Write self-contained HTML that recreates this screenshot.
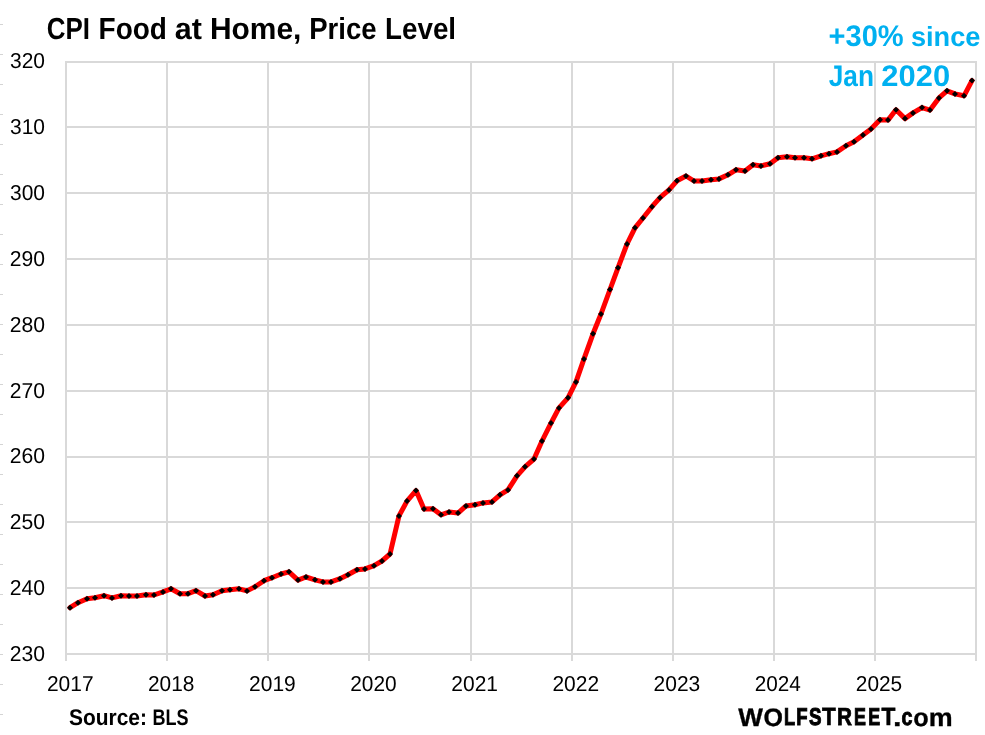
<!DOCTYPE html>
<html><head><meta charset="utf-8"><title>CPI Food at Home, Price Level</title>
<style>html,body{margin:0;padding:0;background:#fff;}body{width:985px;height:735px;overflow:hidden;font-family:"Liberation Sans",sans-serif;}svg{display:block;}text{font-family:"Liberation Sans",sans-serif;}</style></head><body>
<svg width="985" height="735" viewBox="0 0 985 735" style="will-change:transform" text-rendering="geometricPrecision">
<rect width="985" height="735" fill="#ffffff"/>
<g stroke="#d4d4d4" stroke-width="1">
<line x1="0" y1="24.5" x2="3" y2="24.5"/>
<line x1="0" y1="54.5" x2="3" y2="54.5"/>
<line x1="0" y1="84.5" x2="3" y2="84.5"/>
<line x1="0" y1="114.5" x2="3" y2="114.5"/>
<line x1="0" y1="144.5" x2="3" y2="144.5"/>
<line x1="0" y1="174.5" x2="3" y2="174.5"/>
<line x1="0" y1="204.5" x2="3" y2="204.5"/>
<line x1="0" y1="234.5" x2="3" y2="234.5"/>
<line x1="0" y1="264.5" x2="3" y2="264.5"/>
<line x1="0" y1="294.5" x2="3" y2="294.5"/>
<line x1="0" y1="324.5" x2="3" y2="324.5"/>
<line x1="0" y1="354.5" x2="3" y2="354.5"/>
<line x1="0" y1="384.5" x2="3" y2="384.5"/>
<line x1="0" y1="414.5" x2="3" y2="414.5"/>
<line x1="0" y1="444.5" x2="3" y2="444.5"/>
<line x1="0" y1="474.5" x2="3" y2="474.5"/>
<line x1="0" y1="504.5" x2="3" y2="504.5"/>
<line x1="0" y1="534.5" x2="3" y2="534.5"/>
<line x1="0" y1="564.5" x2="3" y2="564.5"/>
<line x1="0" y1="594.5" x2="3" y2="594.5"/>
<line x1="0" y1="624.5" x2="3" y2="624.5"/>
<line x1="0" y1="654.5" x2="3" y2="654.5"/>
<line x1="0" y1="684.5" x2="3" y2="684.5"/>
<line x1="0" y1="714.5" x2="3" y2="714.5"/>
</g>
<g stroke="#d9d9d9" stroke-width="2" fill="none">
<line x1="65.0" y1="654" x2="977.0" y2="654"/>
<line x1="65.0" y1="588" x2="977.0" y2="588"/>
<line x1="65.0" y1="522" x2="977.0" y2="522"/>
<line x1="65.0" y1="457" x2="977.0" y2="457"/>
<line x1="65.0" y1="391" x2="977.0" y2="391"/>
<line x1="65.0" y1="325" x2="977.0" y2="325"/>
<line x1="65.0" y1="259" x2="977.0" y2="259"/>
<line x1="65.0" y1="193" x2="977.0" y2="193"/>
<line x1="65.0" y1="127" x2="977.0" y2="127"/>
<line x1="65.0" y1="62" x2="977.0" y2="62"/>
<line x1="66" y1="61.0" x2="66" y2="661.0"/>
<line x1="167" y1="61.0" x2="167" y2="661.0"/>
<line x1="268" y1="61.0" x2="268" y2="661.0"/>
<line x1="369" y1="61.0" x2="369" y2="661.0"/>
<line x1="471" y1="61.0" x2="471" y2="661.0"/>
<line x1="572" y1="61.0" x2="572" y2="661.0"/>
<line x1="673" y1="61.0" x2="673" y2="661.0"/>
<line x1="774" y1="61.0" x2="774" y2="661.0"/>
<line x1="875" y1="61.0" x2="875" y2="661.0"/>
<line x1="976" y1="61.0" x2="976" y2="661.0"/>
</g>
<text transform="translate(46.73,39.20) scale(0.8526,1)" font-size="30.4" font-weight="bold" fill="#000">CPI</text>
<text transform="translate(98.56,39.20) scale(0.9210,1)" font-size="30.4" font-weight="bold" fill="#000">Food</text>
<text transform="translate(174.70,39.20) scale(1.0039,1)" font-size="30.4" font-weight="bold" fill="#000">at</text>
<text transform="translate(209.93,39.20) scale(0.9848,1)" font-size="30.4" font-weight="bold" fill="#000">Home,</text>
<text transform="translate(309.19,39.20) scale(0.9053,1)" font-size="30.4" font-weight="bold" fill="#000">Price</text>
<text transform="translate(385.07,39.20) scale(0.9129,1)" font-size="30.4" font-weight="bold" fill="#000">Level</text>
<text transform="translate(69.00,725.40) scale(0.9268,1)" font-size="22.6" font-weight="bold" fill="#000">Source:</text>
<text transform="translate(152.60,725.40) scale(0.7977,1)" font-size="22.6" font-weight="bold" fill="#000">BLS</text>
<text transform="translate(738.14,725.60) scale(1.0341,1)" font-size="25.31" font-weight="bold" fill="#000" stroke="#000" stroke-width="0.3" stroke-linejoin="miter">W</text>
<text transform="translate(763.49,725.57) scale(0.9910,1)" font-size="25.22" font-weight="bold" fill="#000" stroke="#000" stroke-width="0.36" stroke-linejoin="miter">O</text>
<text transform="translate(783.97,725.25) scale(0.7472,1)" font-size="24.29" font-weight="bold" fill="#000" stroke="#000" stroke-width="1.0" stroke-linejoin="miter">L</text>
<text transform="translate(796.25,725.25) scale(0.7623,1)" font-size="24.29" font-weight="bold" fill="#000" stroke="#000" stroke-width="1.0" stroke-linejoin="miter">F</text>
<text transform="translate(808.91,725.25) scale(0.7710,1)" font-size="24.29" font-weight="bold" fill="#000" stroke="#000" stroke-width="1.0" stroke-linejoin="miter">S</text>
<text transform="translate(821.95,725.45) scale(0.9055,1)" font-size="24.87" font-weight="bold" fill="#000" stroke="#000" stroke-width="0.6" stroke-linejoin="miter">T</text>
<text transform="translate(837.11,725.35) scale(0.8461,1)" font-size="24.57" font-weight="bold" fill="#000" stroke="#000" stroke-width="0.81" stroke-linejoin="miter">R</text>
<text transform="translate(853.98,725.25) scale(0.7345,1)" font-size="24.29" font-weight="bold" fill="#000" stroke="#000" stroke-width="1.0" stroke-linejoin="miter">E</text>
<text transform="translate(868.18,725.25) scale(0.7345,1)" font-size="24.29" font-weight="bold" fill="#000" stroke="#000" stroke-width="1.0" stroke-linejoin="miter">E</text>
<text transform="translate(881.45,725.45) scale(0.9121,1)" font-size="24.87" font-weight="bold" fill="#000" stroke="#000" stroke-width="0.6" stroke-linejoin="miter">T</text>
<text transform="translate(892.96,725.60) scale(1.2105,1)" font-size="25.31" font-weight="bold" fill="#000" stroke="#000" stroke-width="0.3" stroke-linejoin="miter">.</text>
<text transform="translate(901.45,725.30) scale(0.8142,1)" font-size="24.19" font-weight="bold" fill="#000" stroke="#000" stroke-width="0.9" stroke-linejoin="miter">c</text>
<text transform="translate(913.35,725.60) scale(1.0000,1)" font-size="25.3" font-weight="bold" fill="#000" stroke="#000" stroke-width="0.3" stroke-linejoin="miter">o</text>
<text transform="translate(928.80,725.60) scale(1.0639,1)" font-size="25.3" font-weight="bold" fill="#000" stroke="#000" stroke-width="0.3" stroke-linejoin="miter">m</text>
<text transform="translate(828.59,45.70) scale(0.9714,1)" font-size="29.9" font-weight="bold" fill="#00b0f0">+30%</text>
<text transform="translate(910.92,45.70) scale(0.9847,1)" font-size="27.6" font-weight="bold" fill="#00b0f0">since</text>
<text transform="translate(828.66,86.30) scale(0.8792,1)" font-size="29.9" font-weight="bold" fill="#00b0f0">Jan</text>
<text transform="translate(881.26,86.30) scale(1.0350,1)" font-size="29.9" font-weight="bold" fill="#00b0f0">2020</text>
<text transform="translate(9.72,660.80) scale(0.9781,1)" font-size="21.6" font-weight="normal" fill="#000">230</text>
<text transform="translate(9.72,594.80) scale(0.9781,1)" font-size="21.6" font-weight="normal" fill="#000">240</text>
<text transform="translate(9.72,528.80) scale(0.9781,1)" font-size="21.6" font-weight="normal" fill="#000">250</text>
<text transform="translate(9.72,462.80) scale(0.9781,1)" font-size="21.6" font-weight="normal" fill="#000">260</text>
<text transform="translate(9.72,397.80) scale(0.9781,1)" font-size="21.6" font-weight="normal" fill="#000">270</text>
<text transform="translate(9.72,331.80) scale(0.9781,1)" font-size="21.6" font-weight="normal" fill="#000">280</text>
<text transform="translate(9.72,265.80) scale(0.9781,1)" font-size="21.6" font-weight="normal" fill="#000">290</text>
<text transform="translate(9.97,199.80) scale(0.9710,1)" font-size="21.6" font-weight="normal" fill="#000">300</text>
<text transform="translate(9.97,133.80) scale(0.9710,1)" font-size="21.6" font-weight="normal" fill="#000">310</text>
<text transform="translate(9.97,67.80) scale(0.9710,1)" font-size="21.6" font-weight="normal" fill="#000">320</text>
<text transform="translate(46.89,690.80) scale(0.9717,1)" font-size="21.6" font-weight="normal" fill="#000">2017</text>
<text transform="translate(148.01,690.80) scale(0.9665,1)" font-size="21.6" font-weight="normal" fill="#000">2018</text>
<text transform="translate(249.11,690.80) scale(0.9717,1)" font-size="21.6" font-weight="normal" fill="#000">2019</text>
<text transform="translate(350.23,690.80) scale(0.9665,1)" font-size="21.6" font-weight="normal" fill="#000">2020</text>
<text transform="translate(451.34,690.80) scale(0.9717,1)" font-size="21.6" font-weight="normal" fill="#000">2021</text>
<text transform="translate(552.45,690.80) scale(0.9717,1)" font-size="21.6" font-weight="normal" fill="#000">2022</text>
<text transform="translate(653.56,690.80) scale(0.9717,1)" font-size="21.6" font-weight="normal" fill="#000">2023</text>
<text transform="translate(754.68,690.80) scale(0.9613,1)" font-size="21.6" font-weight="normal" fill="#000">2024</text>
<text transform="translate(855.79,690.80) scale(0.9665,1)" font-size="21.6" font-weight="normal" fill="#000">2025</text>
<polyline points="70.0,607.7 78.0,602.7 87.0,598.7 95.0,597.7 104.0,595.7 112.0,597.9 121.0,595.7 129.0,596.1 137.0,595.9 146.0,594.8 154.0,595.0 163.0,591.9 171.0,588.8 180.0,593.7 188.0,593.7 196.0,590.7 205.0,596.0 213.0,594.8 222.0,590.7 230.0,589.7 239.0,588.8 247.0,590.9 255.0,586.8 264.0,580.7 272.0,577.7 281.0,574.0 289.0,571.8 298.0,580.1 306.0,577.0 315.0,579.8 323.0,581.9 331.0,581.9 340.0,578.7 348.0,574.8 357.0,569.8 365.0,568.9 374.0,565.7 382.0,561.0 390.0,554.0 399.0,515.9 407.0,501.1 416.0,490.6 424.0,509.0 433.0,508.7 441.0,514.8 449.0,512.0 458.0,513.1 466.0,505.9 475.0,504.7 483.0,502.9 492.0,501.9 500.0,494.8 508.0,489.9 517.0,475.8 525.0,466.8 534.0,459.0 542.0,441.0 551.0,423.1 559.0,407.9 568.0,397.8 576.0,381.9 584.0,358.9 593.0,333.8 601.0,314.0 610.0,289.5 618.0,267.8 627.0,244.0 635.0,227.8 643.0,218.0 652.0,206.7 660.0,197.7 669.0,189.9 677.0,180.8 686.0,176.0 694.0,181.0 702.0,181.0 711.0,179.8 719.0,178.9 728.0,174.8 736.0,169.8 745.0,171.0 753.0,164.8 761.0,165.9 770.0,163.8 778.0,157.7 787.0,156.8 795.0,157.8 804.0,157.8 812.0,158.8 821.0,155.8 829.0,153.7 837.0,151.9 846.0,145.7 854.0,141.8 863.0,134.9 871.0,129.0 880.0,119.8 888.0,120.1 896.0,109.8 905.0,118.6 913.0,112.9 922.0,107.6 930.0,110.1 939.0,97.9 947.0,90.8 955.0,93.9 964.0,95.8 972.0,80.6" fill="none" stroke="#ff0000" stroke-width="5" stroke-linejoin="round" stroke-linecap="round"/>
<path d="M70.0,604.7l3.0,3.0l-3.0,3.0l-3.0,-3.0zM78.0,599.7l3.0,3.0l-3.0,3.0l-3.0,-3.0zM87.0,595.7l3.0,3.0l-3.0,3.0l-3.0,-3.0zM95.0,594.7l3.0,3.0l-3.0,3.0l-3.0,-3.0zM104.0,592.7l3.0,3.0l-3.0,3.0l-3.0,-3.0zM112.0,594.9l3.0,3.0l-3.0,3.0l-3.0,-3.0zM121.0,592.7l3.0,3.0l-3.0,3.0l-3.0,-3.0zM129.0,593.1l3.0,3.0l-3.0,3.0l-3.0,-3.0zM137.0,592.9l3.0,3.0l-3.0,3.0l-3.0,-3.0zM146.0,591.8l3.0,3.0l-3.0,3.0l-3.0,-3.0zM154.0,592.0l3.0,3.0l-3.0,3.0l-3.0,-3.0zM163.0,588.9l3.0,3.0l-3.0,3.0l-3.0,-3.0zM171.0,585.8l3.0,3.0l-3.0,3.0l-3.0,-3.0zM180.0,590.7l3.0,3.0l-3.0,3.0l-3.0,-3.0zM188.0,590.7l3.0,3.0l-3.0,3.0l-3.0,-3.0zM196.0,587.7l3.0,3.0l-3.0,3.0l-3.0,-3.0zM205.0,593.0l3.0,3.0l-3.0,3.0l-3.0,-3.0zM213.0,591.8l3.0,3.0l-3.0,3.0l-3.0,-3.0zM222.0,587.7l3.0,3.0l-3.0,3.0l-3.0,-3.0zM230.0,586.7l3.0,3.0l-3.0,3.0l-3.0,-3.0zM239.0,585.8l3.0,3.0l-3.0,3.0l-3.0,-3.0zM247.0,587.9l3.0,3.0l-3.0,3.0l-3.0,-3.0zM255.0,583.8l3.0,3.0l-3.0,3.0l-3.0,-3.0zM264.0,577.7l3.0,3.0l-3.0,3.0l-3.0,-3.0zM272.0,574.7l3.0,3.0l-3.0,3.0l-3.0,-3.0zM281.0,571.0l3.0,3.0l-3.0,3.0l-3.0,-3.0zM289.0,568.8l3.0,3.0l-3.0,3.0l-3.0,-3.0zM298.0,577.1l3.0,3.0l-3.0,3.0l-3.0,-3.0zM306.0,574.0l3.0,3.0l-3.0,3.0l-3.0,-3.0zM315.0,576.8l3.0,3.0l-3.0,3.0l-3.0,-3.0zM323.0,578.9l3.0,3.0l-3.0,3.0l-3.0,-3.0zM331.0,578.9l3.0,3.0l-3.0,3.0l-3.0,-3.0zM340.0,575.7l3.0,3.0l-3.0,3.0l-3.0,-3.0zM348.0,571.8l3.0,3.0l-3.0,3.0l-3.0,-3.0zM357.0,566.8l3.0,3.0l-3.0,3.0l-3.0,-3.0zM365.0,565.9l3.0,3.0l-3.0,3.0l-3.0,-3.0zM374.0,562.7l3.0,3.0l-3.0,3.0l-3.0,-3.0zM382.0,558.0l3.0,3.0l-3.0,3.0l-3.0,-3.0zM390.0,551.0l3.0,3.0l-3.0,3.0l-3.0,-3.0zM399.0,512.9l3.0,3.0l-3.0,3.0l-3.0,-3.0zM407.0,498.1l3.0,3.0l-3.0,3.0l-3.0,-3.0zM416.0,487.6l3.0,3.0l-3.0,3.0l-3.0,-3.0zM424.0,506.0l3.0,3.0l-3.0,3.0l-3.0,-3.0zM433.0,505.7l3.0,3.0l-3.0,3.0l-3.0,-3.0zM441.0,511.8l3.0,3.0l-3.0,3.0l-3.0,-3.0zM449.0,509.0l3.0,3.0l-3.0,3.0l-3.0,-3.0zM458.0,510.1l3.0,3.0l-3.0,3.0l-3.0,-3.0zM466.0,502.9l3.0,3.0l-3.0,3.0l-3.0,-3.0zM475.0,501.7l3.0,3.0l-3.0,3.0l-3.0,-3.0zM483.0,499.9l3.0,3.0l-3.0,3.0l-3.0,-3.0zM492.0,498.9l3.0,3.0l-3.0,3.0l-3.0,-3.0zM500.0,491.8l3.0,3.0l-3.0,3.0l-3.0,-3.0zM508.0,486.9l3.0,3.0l-3.0,3.0l-3.0,-3.0zM517.0,472.8l3.0,3.0l-3.0,3.0l-3.0,-3.0zM525.0,463.8l3.0,3.0l-3.0,3.0l-3.0,-3.0zM534.0,456.0l3.0,3.0l-3.0,3.0l-3.0,-3.0zM542.0,438.0l3.0,3.0l-3.0,3.0l-3.0,-3.0zM551.0,420.1l3.0,3.0l-3.0,3.0l-3.0,-3.0zM559.0,404.9l3.0,3.0l-3.0,3.0l-3.0,-3.0zM568.0,394.8l3.0,3.0l-3.0,3.0l-3.0,-3.0zM576.0,378.9l3.0,3.0l-3.0,3.0l-3.0,-3.0zM584.0,355.9l3.0,3.0l-3.0,3.0l-3.0,-3.0zM593.0,330.8l3.0,3.0l-3.0,3.0l-3.0,-3.0zM601.0,311.0l3.0,3.0l-3.0,3.0l-3.0,-3.0zM610.0,286.5l3.0,3.0l-3.0,3.0l-3.0,-3.0zM618.0,264.8l3.0,3.0l-3.0,3.0l-3.0,-3.0zM627.0,241.0l3.0,3.0l-3.0,3.0l-3.0,-3.0zM635.0,224.8l3.0,3.0l-3.0,3.0l-3.0,-3.0zM643.0,215.0l3.0,3.0l-3.0,3.0l-3.0,-3.0zM652.0,203.7l3.0,3.0l-3.0,3.0l-3.0,-3.0zM660.0,194.7l3.0,3.0l-3.0,3.0l-3.0,-3.0zM669.0,186.9l3.0,3.0l-3.0,3.0l-3.0,-3.0zM677.0,177.8l3.0,3.0l-3.0,3.0l-3.0,-3.0zM686.0,173.0l3.0,3.0l-3.0,3.0l-3.0,-3.0zM694.0,178.0l3.0,3.0l-3.0,3.0l-3.0,-3.0zM702.0,178.0l3.0,3.0l-3.0,3.0l-3.0,-3.0zM711.0,176.8l3.0,3.0l-3.0,3.0l-3.0,-3.0zM719.0,175.9l3.0,3.0l-3.0,3.0l-3.0,-3.0zM728.0,171.8l3.0,3.0l-3.0,3.0l-3.0,-3.0zM736.0,166.8l3.0,3.0l-3.0,3.0l-3.0,-3.0zM745.0,168.0l3.0,3.0l-3.0,3.0l-3.0,-3.0zM753.0,161.8l3.0,3.0l-3.0,3.0l-3.0,-3.0zM761.0,162.9l3.0,3.0l-3.0,3.0l-3.0,-3.0zM770.0,160.8l3.0,3.0l-3.0,3.0l-3.0,-3.0zM778.0,154.7l3.0,3.0l-3.0,3.0l-3.0,-3.0zM787.0,153.8l3.0,3.0l-3.0,3.0l-3.0,-3.0zM795.0,154.8l3.0,3.0l-3.0,3.0l-3.0,-3.0zM804.0,154.8l3.0,3.0l-3.0,3.0l-3.0,-3.0zM812.0,155.8l3.0,3.0l-3.0,3.0l-3.0,-3.0zM821.0,152.8l3.0,3.0l-3.0,3.0l-3.0,-3.0zM829.0,150.7l3.0,3.0l-3.0,3.0l-3.0,-3.0zM837.0,148.9l3.0,3.0l-3.0,3.0l-3.0,-3.0zM846.0,142.7l3.0,3.0l-3.0,3.0l-3.0,-3.0zM854.0,138.8l3.0,3.0l-3.0,3.0l-3.0,-3.0zM863.0,131.9l3.0,3.0l-3.0,3.0l-3.0,-3.0zM871.0,126.0l3.0,3.0l-3.0,3.0l-3.0,-3.0zM880.0,116.8l3.0,3.0l-3.0,3.0l-3.0,-3.0zM888.0,117.1l3.0,3.0l-3.0,3.0l-3.0,-3.0zM896.0,106.8l3.0,3.0l-3.0,3.0l-3.0,-3.0zM905.0,115.6l3.0,3.0l-3.0,3.0l-3.0,-3.0zM913.0,109.9l3.0,3.0l-3.0,3.0l-3.0,-3.0zM922.0,104.6l3.0,3.0l-3.0,3.0l-3.0,-3.0zM930.0,107.1l3.0,3.0l-3.0,3.0l-3.0,-3.0zM939.0,94.9l3.0,3.0l-3.0,3.0l-3.0,-3.0zM947.0,87.8l3.0,3.0l-3.0,3.0l-3.0,-3.0zM955.0,90.9l3.0,3.0l-3.0,3.0l-3.0,-3.0zM964.0,92.8l3.0,3.0l-3.0,3.0l-3.0,-3.0zM972.0,77.6l3.0,3.0l-3.0,3.0l-3.0,-3.0z" fill="#000"/>
</svg></body></html>
